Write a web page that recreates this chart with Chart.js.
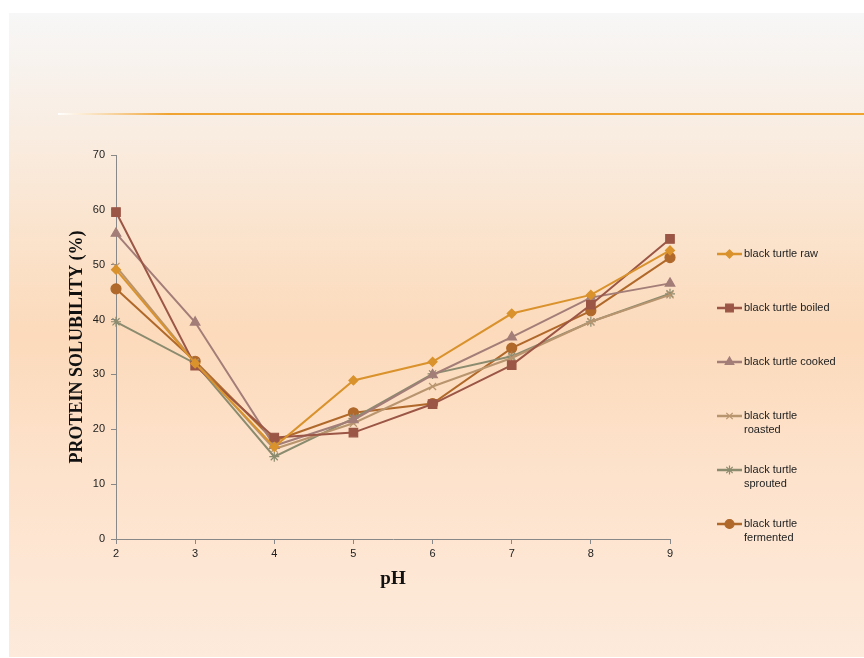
<!DOCTYPE html>
<html>
<head>
<meta charset="utf-8">
<title>Protein solubility vs pH</title>
<script src="https://cdn.jsdelivr.net/npm/chart.js@4/dist/chart.umd.min.js"></script>
<style>
  html, body { margin: 0; padding: 0; background: #fff; }
  #wrap { position: relative; width: 864px; height: 658px; overflow: hidden; }
  #panel {
    position: absolute; left: 9px; top: 13px; right: 0; bottom: 1px;
    background: linear-gradient(to bottom, #f7f7f7 0%, #f9ede2 18%, #fbe1c8 38%, #fcdabb 50%, #fde2cb 70%, #fdeadb 100%);
  }
  #rule {
    position: absolute; left: 58px; right: 0; top: 113px; height: 2px;
    background: linear-gradient(to right, #fff 0px, #f7cf95 60px, #f0a330 110px, #f0a330 100%);
  }
  #c { position: absolute; left: 0; top: 0; }
</style>
</head>
<body>
<div id="wrap">
  <div id="panel"></div>
  <div id="rule"></div>
  <canvas id="c" width="864" height="658"></canvas>
</div>
<script>
// data
const pH = [2, 3, 4, 5, 6, 7, 8, 9];
const raw       = [49.1, 32.0, 16.8, 28.9, 32.3, 41.1, 44.5, 52.6];
const boiled    = [59.6, 31.6, 18.5, 19.4, 24.6, 31.7, 42.7, 54.7];
const cooked    = [55.7, 39.5, 17.0, 21.7, 29.9, 36.8, 44.0, 46.6];
const roasted   = [49.7, 32.2, 16.4, 21.1, 27.8, 33.0, 39.6, 44.5];
const sprouted  = [39.6, 32.0, 15.0, 22.0, 30.1, 33.3, 39.6, 44.7];
const fermented = [45.6, 32.4, 17.9, 23.0, 24.7, 34.8, 41.6, 51.3];
const yTicks = [0, 10, 20, 30, 40, 50, 60, 70];

const seriesNames = [
  ['black turtle raw'],
  ['black turtle boiled'],
  ['black turtle cooked'],
  ['black turtle', 'roasted'],
  ['black turtle', 'sprouted'],
  ['black turtle', 'fermented']
];

function ds(label, data, color, style, r) {
  return {
    label: label.join(' '),
    legendLines: label,
    data: data,
    borderColor: color,
    backgroundColor: color,
    borderWidth: 2,
    pointStyle: style,
    pointRadius: r,
    pointBorderWidth: 1.2,
    pointHoverRadius: r,
    tension: 0
  };
}

// right-hand legend, drawn on the canvas
const sideLegend = {
  id: 'sideLegend',
  afterDraw(chart) {
    const ctx = chart.ctx;
    const x0 = 717, x1 = 742, tx = 744, top = 254, gap = 54;
    ctx.save();
    ctx.font = '11px "Liberation Sans", Arial, sans-serif';
    ctx.textBaseline = 'middle';
    ctx.textAlign = 'left';
    chart.data.datasets.forEach((d, i) => {
      const y = top + i * gap;
      ctx.strokeStyle = d.borderColor;
      ctx.lineWidth = 2.5;
      ctx.beginPath();
      ctx.moveTo(x0, y);
      ctx.lineTo(x1, y);
      ctx.stroke();
      ctx.fillStyle = d.backgroundColor;
      ctx.lineWidth = 1.2;
      Chart.helpers.drawPoint(ctx, { pointStyle: d.pointStyle, radius: d.pointRadius * 0.9, rotation: 0, borderWidth: 1.2 }, (x0 + x1) / 2, y);
      ctx.fillStyle = '#222';
      d.legendLines.forEach((t, k) => ctx.fillText(t, tx, y + k * 14));
    });
    ctx.restore();
  }
};

const chart = new Chart(document.getElementById('c'), {
  type: 'line',
  data: {
    labels: pH,
    datasets: [
      ds(seriesNames[0], raw,       '#d9922c', 'rectRot',  4.5),
      ds(seriesNames[1], boiled,    '#9b5646', 'rect',     6),
      ds(seriesNames[2], cooked,    '#a37d78', 'triangle', 5.5),
      ds(seriesNames[3], roasted,   '#b8956f', 'crossRot', 5),
      ds(seriesNames[4], sprouted,  '#8b8b6f', 'star',     5),
      ds(seriesNames[5], fermented, '#b0692a', 'circle',   5)
    ]
  },
  options: {
    responsive: false,
    devicePixelRatio: 1,
    animation: false,
    layout: { padding: { left: 67, right: 194, top: 155, bottom: 68 } },
    plugins: { legend: { display: false }, tooltip: { enabled: false } },
    scales: {
      x: {
        type: 'category',
        offset: false,
        grid: { drawOnChartArea: false, offset: false, color: '#888', tickLength: 5 },
        border: { color: '#888', width: 1 },
        ticks: { color: '#222', padding: 3, font: { family: '"Liberation Sans", Arial, sans-serif', size: 11 } },
        title: {
          display: true, text: 'pH', color: '#111', padding: 0,
          font: { family: '"Liberation Serif", "Times New Roman", serif', size: 19, weight: 'bold' }
        },
        afterFit(s) { s.height = 51; }
      },
      y: {
        min: 0, max: 70,
        grid: { drawOnChartArea: false, color: '#888', tickLength: 5 },
        border: { color: '#888', width: 1 },
        afterBuildTicks(s) { s.ticks = yTicks.map(v => ({ value: v })); },
        ticks: { color: '#222', padding: 6, font: { family: '"Liberation Sans", Arial, sans-serif', size: 11 } },
        title: {
          display: true, text: 'PROTEIN SOLUBILITY (%)', color: '#111', padding: 0,
          font: { family: '"Liberation Serif", "Times New Roman", serif', size: 18, weight: 'bold' }
        },
        afterFit(s) { s.width = 49; }
      }
    }
  },
  plugins: [sideLegend]
});
</script>
</body>
</html>
